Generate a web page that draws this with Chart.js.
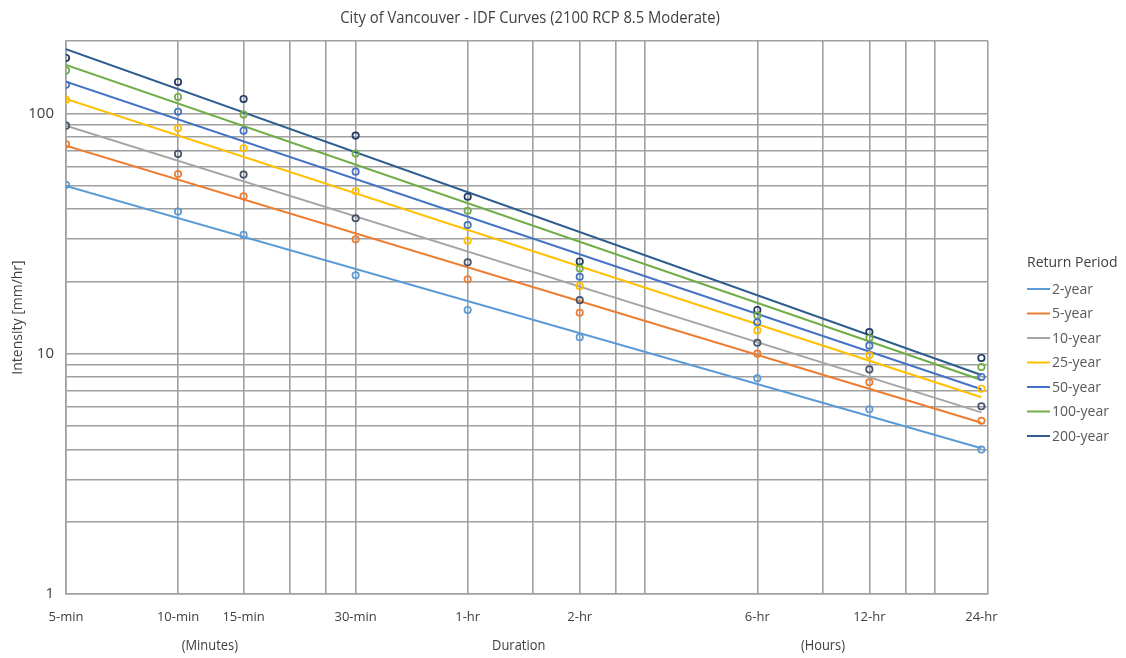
<!DOCTYPE html>
<html>
<head>
<meta charset="utf-8">
<script src="https://cdn.jsdelivr.net/npm/chart.js@4.4.1/dist/chart.umd.min.js"></script>
<style>
  html, body { margin: 0; padding: 0; background: #ffffff; }
  #wrap { position: relative; width: 1126px; height: 658px; }
</style>
</head>
<body>
<div id="wrap"><canvas id="c" width="1126" height="658"></canvas></div>
<script>
// ---- Data ----
const durations = [5, 10, 15, 30, 60, 120, 360, 720, 1440];   // minutes
const seriesNames = ['2-year', '5-year', '10-year', '25-year', '50-year', '100-year', '200-year'];

const y2   = [50.4, 39.0, 31.2, 21.2, 15.2, 11.7, 7.9, 5.87, 3.99];
const y5   = [74.4, 55.9, 45.2, 29.9, 20.4, 14.8, 10.0, 7.6, 5.26];
const y10  = [88.9, 67.8, 55.6, 36.6, 24.0, 16.7, 11.1, 8.6, 6.04];
const y25  = [114.0, 86.7, 71.6, 47.4, 29.5, 19.1, 12.5, 9.85, 7.15];
const y50  = [131.6, 101.6, 84.7, 57.2, 34.3, 20.9, 13.5, 10.8, 8.0];
const y100 = [150.6, 117.0, 98.8, 68.0, 39.3, 22.6, 14.4, 11.6, 8.8];
const y200 = [170.0, 135.1, 114.8, 80.8, 45.0, 24.2, 15.2, 12.3, 9.6];
const pointValues = [y2, y5, y10, y25, y50, y100, y200];

// Trendline end values (at 5 min and at 24 hr)
const trendStartX = 5, trendEndX = 1440;
const trendStart = [49.9, 73.4, 88.9, 114.8, 135.5, 159.0, 184.8];
const trendEnd   = [4.04, 5.16, 5.70, 6.59, 7.11, 7.77, 8.15];

// Axis ticks
const xGridValues = [5, 10, 15, 20, 25, 30, 60, 90, 120, 150, 180, 360, 540, 720, 900, 1080, 1440, 1500];
const xLabelValues = [5, 10, 15, 30, 60, 120, 360, 720, 1440];
const xLabelTexts  = ['5-min', '10-min', '15-min', '30-min', '1-hr', '2-hr', '6-hr', '12-hr', '24-hr'];
const yGridValues = [1, 2, 3, 4, 5, 6, 7, 8, 9, 10, 20, 30, 40, 50, 60, 70, 80, 90, 100, 200];
const yLabelValues = [1, 10, 100];

// ---- Styles ----
const lineColors   = ['#5B9BD5', '#ED7D31', '#A5A5A5', '#FFC000', '#4472C4', '#70AD47', '#2E5E8E'];
const markerColors = ['#5B9BD5', '#ED7D31', '#44546A', '#FFC000', '#4472C4', '#70AD47', '#1F3864'];
const FONT = '"Open Sans", "Liberation Sans", sans-serif';
const GRID = '#A0A0A0';
const TEXT = '#404040';

const datasets = [];
pointValues.forEach((vals, i) => {
  datasets.push({
    type: 'scatter',
    label: seriesNames[i] + ' data',
    data: durations.map((d, k) => ({ x: d, y: vals[k] })),
    showLine: false,
    pointRadius: 3.2,
    pointHoverRadius: 3.2,
    pointBorderWidth: 1.7,
    borderColor: markerColors[i],
    backgroundColor: 'rgba(255,255,255,0)',
    order: 0
  });
});
seriesNames.forEach((name, i) => {
  datasets.push({
    type: 'line',
    label: name,
    data: [{ x: trendStartX, y: trendStart[i] }, { x: trendEndX, y: trendEnd[i] }],
    borderColor: lineColors[i],
    borderWidth: 2,
    pointRadius: 0,
    fill: false,
    order: 1
  });
});

function narrowText(ctx, text, x, y, squeeze) {
  ctx.save();
  ctx.translate(x, y);
  ctx.scale(squeeze, 1);
  ctx.fillText(text, 0, 0);
  ctx.restore();
}

const decorPlugin = {
  id: 'decor',
  afterDraw(chart) {
    const ctx = chart.ctx;
    const a = chart.chartArea;
    ctx.save();
    // Title
    ctx.fillStyle = TEXT;
    ctx.font = '17px ' + FONT;
    ctx.textAlign = 'center';
    ctx.textBaseline = 'middle';
    narrowText(ctx, 'City of Vancouver - IDF Curves (2100 RCP 8.5 Moderate)', (a.left + a.right) / 2 + 3, 18, 0.87);
    // Y axis title
    ctx.save();
    ctx.translate(18, (a.top + a.bottom) / 2);
    ctx.rotate(-Math.PI / 2);
    ctx.font = '14px ' + FONT;
    ctx.fillText('Intensity [mm/hr]', 0, 0);
    ctx.restore();
    // Secondary x labels
    ctx.font = '14px ' + FONT;
    const w = a.right - a.left;
    narrowText(ctx, '(Minutes)', a.left + w * 0.156, 646, 0.92);
    narrowText(ctx, 'Duration', a.left + w * 0.491, 646, 0.92);
    narrowText(ctx, '(Hours)', a.left + w * 0.821, 646, 0.92);
    // Legend
    ctx.textAlign = 'left';
    ctx.font = '14px ' + FONT;
    ctx.fillStyle = TEXT;
    ctx.fillText('Return Period', a.right + 39, 263);
    seriesNames.forEach((name, i) => {
      const y = 289 + i * 24.5;
      ctx.strokeStyle = lineColors[i];
      ctx.lineWidth = 2;
      ctx.beginPath();
      ctx.moveTo(a.right + 39, y);
      ctx.lineTo(a.right + 62, y);
      ctx.stroke();
      ctx.fillStyle = '#595959';
      ctx.fillText(name, a.right + 64, y + 1);
    });
    ctx.restore();
  }
};

new Chart(document.getElementById('c'), {
  type: 'scatter',
  data: { datasets },
  options: {
    responsive: false,
    animation: false,
    layout: { padding: { top: 41, right: 138, left: 0, bottom: 0 } },
    plugins: {
      legend: { display: false },
      title: { display: false },
      tooltip: { enabled: false }
    },
    scales: {
      x: {
        type: 'logarithmic',
        min: 5,
        max: 1500,
        afterBuildTicks(scale) { scale.ticks = xGridValues.map(v => ({ value: v })); },
        afterFit(scale) { scale.height = 64; },
        grid: {
          color: ctx => (ctx.tick && ctx.tick.value === 1440) ? 'rgba(0,0,0,0)' : GRID,
          lineWidth: 1.6,
          drawTicks: false
        },
        border: { color: GRID, width: 1.6 },
        ticks: {
          autoSkip: false,
          maxRotation: 0,
          minRotation: 0,
          padding: 15,
          color: TEXT,
          font: { family: FONT, size: 13 },
          callback(value) {
            const idx = xLabelValues.indexOf(value);
            return idx >= 0 ? xLabelTexts[idx] : '';
          }
        }
      },
      y: {
        type: 'logarithmic',
        min: 1,
        max: 200,
        afterBuildTicks(scale) { scale.ticks = yGridValues.map(v => ({ value: v })); },
        afterFit(scale) { scale.width = 66; },
        grid: { color: GRID, lineWidth: 1.6, drawTicks: false },
        border: { color: GRID, width: 1.6 },
        ticks: {
          autoSkip: false,
          padding: 12,
          color: TEXT,
          font: { family: FONT, size: 15 },
          callback(value) { return yLabelValues.indexOf(value) >= 0 ? String(value) : ''; }
        }
      }
    }
  },
  plugins: [decorPlugin]
});
</script>
</body>
</html>
